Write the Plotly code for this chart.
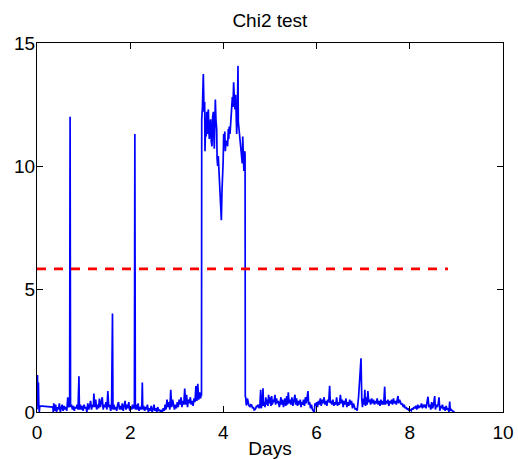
import plotly.graph_objects as go

# Chi2 test statistic over time (days)
DAYS = [
    0.00, 0.01, 0.02, 0.03, 0.04, 0.05, 0.06, 0.34, 0.35,
    0.36, 0.38, 0.40, 0.42, 0.44, 0.46, 0.48, 0.50, 0.52, 0.54, 0.56, 0.58, 0.60, 0.62, 0.64, 0.66, 0.68, 0.70, 0.71, 0.72,
    0.74, 0.76, 0.78, 0.80, 0.82, 0.84, 0.86, 0.88, 0.90, 0.91,
    0.93, 0.95, 0.97, 0.99, 1.01, 1.03, 1.05, 1.07, 1.09, 1.11, 1.13, 1.15, 1.17, 1.19, 1.21, 1.22, 1.24, 1.26, 1.28, 1.30,
    1.32, 1.34, 1.36, 1.38, 1.40, 1.42, 1.44, 1.46, 1.48, 1.50, 1.52, 1.54, 1.56, 1.58, 1.60, 1.62, 1.63,
    1.65, 1.67, 1.69, 1.71, 1.73, 1.75, 1.77, 1.79, 1.81, 1.83, 1.85, 1.87, 1.89, 1.91, 1.93, 1.95, 1.97, 1.99, 2.01, 2.03,
    2.05, 2.07, 2.09, 2.10, 2.11,
    2.13, 2.15, 2.17, 2.19, 2.21, 2.23, 2.25, 2.26, 2.27, 2.29, 2.31, 2.33, 2.35, 2.37, 2.39, 2.41, 2.43, 2.45, 2.47, 2.49,
    2.51, 2.53, 2.55, 2.57, 2.59, 2.61, 2.63, 2.65, 2.67, 2.69, 2.71, 2.73, 2.75, 2.77, 2.79, 2.81, 2.83, 2.85, 2.87, 2.89,
    2.91, 2.93, 2.95, 2.97, 2.99, 3.01, 3.03, 3.05, 3.07, 3.09, 3.11, 3.13, 3.15, 3.17, 3.19, 3.21, 3.23, 3.25, 3.27, 3.29,
    3.31, 3.33, 3.35, 3.37, 3.39, 3.41, 3.43, 3.45, 3.47, 3.49, 3.51, 3.52, 3.53,
    3.535, 3.55, 3.569, 3.585, 3.598, 3.605, 3.62, 3.63, 3.641, 3.655, 3.665, 3.677, 3.69, 3.698, 3.71, 3.727, 3.74,
    3.755, 3.77, 3.784, 3.795, 3.805, 3.815, 3.827, 3.84, 3.856, 3.865, 3.877, 3.89, 3.906, 3.92, 3.934, 3.956, 3.97,
    3.984, 3.995, 4.006, 4.02, 4.03, 4.041, 4.05, 4.06, 4.077, 4.09, 4.106, 4.115, 4.125, 4.142, 4.155, 4.163, 4.18,
    4.192, 4.205, 4.22, 4.235, 4.249, 4.263, 4.285, 4.30, 4.313, 4.32, 4.335, 4.35, 4.37, 4.39, 4.405, 4.415, 4.43,
    4.44, 4.455, 4.465, 4.47,
    4.478, 4.49, 4.50, 4.515, 4.535, 4.55, 4.57, 4.59, 4.607, 4.625, 4.645, 4.66, 4.678, 4.695, 4.71, 4.73, 4.75, 4.77,
    4.785, 4.80, 4.81, 4.83, 4.85, 4.86, 4.88, 4.893, 4.91, 4.925, 4.94, 4.955, 4.97, 4.99, 5.005, 5.02, 5.036, 5.05,
    5.07, 5.085, 5.107, 5.12, 5.14, 5.16, 5.18, 5.20, 5.22, 5.235, 5.25, 5.27, 5.29, 5.305, 5.32, 5.34, 5.36, 5.375,
    5.393, 5.41, 5.43, 5.45, 5.47, 5.49, 5.51, 5.536, 5.55, 5.57, 5.59, 5.61, 5.63, 5.65, 5.665, 5.68, 5.70, 5.72,
    5.74, 5.76, 5.78, 5.80, 5.815, 5.83, 5.85, 5.87, 5.89, 5.91, 5.93, 5.95, 5.965, 5.98, 6.00, 6.02, 6.04, 6.06,
    6.08, 6.10, 6.12, 6.14, 6.16, 6.18, 6.20, 6.22, 6.24, 6.26, 6.28, 6.295, 6.31, 6.33, 6.35, 6.37, 6.39, 6.41,
    6.43, 6.45, 6.47, 6.49, 6.51, 6.53, 6.55, 6.57, 6.59, 6.61, 6.63, 6.65, 6.67, 6.69, 6.71, 6.73, 6.75, 6.77,
    6.79, 6.81, 6.83, 6.85, 6.87, 6.90, 6.953, 6.97, 6.985, 7.00, 7.02, 7.035, 7.05, 7.07, 7.085, 7.10, 7.12, 7.14,
    7.16, 7.18, 7.20, 7.22, 7.24, 7.26, 7.28, 7.30, 7.32, 7.34, 7.36, 7.38, 7.40, 7.42, 7.44, 7.461, 7.475, 7.49,
    7.51, 7.53, 7.55, 7.57, 7.59, 7.61, 7.63, 7.65, 7.67, 7.69, 7.71, 7.73, 7.747, 7.76, 7.78, 7.80, 7.82, 7.84,
    7.86, 7.88, 7.90, 7.92, 7.94, 7.96, 7.98, 8.00, 8.03, 8.05, 8.07, 8.09, 8.11, 8.13, 8.15, 8.17, 8.19, 8.21,
    8.23, 8.25, 8.27, 8.29, 8.31, 8.33, 8.35, 8.37, 8.39, 8.41, 8.43, 8.45, 8.47, 8.49, 8.51, 8.534, 8.55, 8.57,
    8.59, 8.61, 8.627, 8.645, 8.66, 8.68, 8.70, 8.72, 8.74, 8.76, 8.78, 8.80, 8.82, 8.84, 8.856, 8.87, 8.89, 8.91,
    8.93, 8.96,
]
CHI2 = [
    0.10, 1.50, 0.30, 1.20, 0.20, 0.00, 0.25, 0.20, 0.00,
    0.35, 0.05, 0.30, 0.00, 0.20, 0.10, 0.35, 0.00, 0.15, 0.30, 0.05, 0.25, 0.10, 0.20, 0.05, 0.60, 0.20, 0.30, 12.0, 0.20,
    0.30, 0.10, 0.25, 0.05, 0.20, 0.15, 0.30, 0.10, 1.45, 0.10,
    0.30, 0.10, 0.25, 0.05, 0.30, 0.15, 0.20, 0.00, 0.35, 0.10, 0.25, 0.45, 0.10, 0.30, 0.20, 0.75, 0.20, 0.50, 0.10, 0.30,
    0.15, 0.55, 0.20, 0.35, 0.60, 0.10, 0.30, 0.20, 0.40, 0.10, 0.85, 0.20, 0.30, 0.05, 0.20, 4.00, 0.10,
    0.30, 0.10, 0.20, 0.05, 0.30, 0.40, 0.10, 0.25, 0.10, 0.35, 0.05, 0.20, 0.45, 0.10, 0.30, 0.15, 0.40, 0.05, 0.20, 0.10,
    0.30, 0.15, 0.20, 11.3, 0.10,
    0.30, 0.10, 0.35, 0.05, 0.20, 0.10, 0.30, 1.20, 0.10, 0.25, 0.05, 0.20, 0.10, 0.30, 0.00, 0.15, 0.05, 0.25, 0.00, 0.10,
    0.30, 0.05, 0.15, 0.00, 0.20, 0.05, 0.10, 0.00, 0.05, 0.00, 0.15, 0.05, 0.30, 0.10, 0.50, 0.20, 0.40, 0.10, 0.90, 0.20,
    0.50, 0.30, 0.10, 0.30, 0.15, 0.40, 0.20, 0.50, 0.30, 0.60, 0.20, 0.45, 0.30, 0.95, 0.30, 0.70, 0.20, 0.50, 0.35, 0.60,
    0.30, 0.45, 0.25, 0.55, 0.40, 1.05, 0.45, 1.15, 0.50, 0.80, 0.55, 0.70, 0.70,
    11.9, 12.4, 13.74, 12.2, 12.6, 10.6, 11.8, 11.2, 12.2, 11.3, 11.9, 12.3, 11.4, 11.1, 11.7, 11.9, 11.0,
    10.8, 12.0, 12.2, 11.2, 10.7, 11.6, 12.7, 11.9, 11.5, 10.3, 10.0, 10.4, 9.75, 9.3, 8.8, 7.8, 9.0,
    9.5, 10.2, 11.3, 10.9, 11.4, 10.6, 10.9, 11.0, 11.0, 10.8, 11.5, 11.1, 11.6, 11.3, 11.7, 12.2, 12.5,
    12.8, 12.4, 13.4, 12.7, 12.3, 12.9, 11.3, 12.0, 14.07, 11.8, 11.5, 11.0, 10.7, 10.4, 10.1, 11.2, 10.5,
    9.8, 10.6, 10.5, 0.60,
    0.62, 0.30, 0.28, 0.55, 0.35, 0.25, 0.22, 0.30, 0.28, 0.15, 0.20, 0.08, 0.10, 0.15, 0.25, 0.20, 0.30, 0.15,
    0.35, 0.90, 0.15, 0.30, 0.96, 0.25, 0.40, 0.20, 0.60, 0.30, 0.50, 0.25, 0.70, 0.35, 0.60, 0.25, 0.65, 0.30,
    0.50, 0.40, 0.70, 0.30, 0.55, 0.35, 0.45, 0.20, 0.40, 0.60, 0.30, 0.50, 0.20, 0.45, 0.55, 0.25, 0.65, 0.30,
    0.80, 0.35, 0.50, 0.30, 0.60, 0.25, 0.40, 0.70, 0.30, 0.55, 0.25, 0.45, 0.30, 0.50, 0.20, 0.40, 0.30, 0.50,
    0.25, 0.60, 0.35, 0.70, 0.85, 0.30, 0.40, 0.15, 0.30, 0.10, 0.05, 0.00, 0.35, 0.25, 0.40, 0.20, 0.45, 0.30,
    0.55, 0.25, 0.50, 0.35, 0.60, 0.30, 0.45, 0.25, 0.50, 0.40, 1.07, 0.35, 0.45, 0.30, 0.50, 0.25, 0.40, 0.30,
    0.60, 0.25, 0.40, 0.30, 0.70, 0.35, 0.50, 0.20, 0.45, 0.30, 0.55, 0.20, 0.40, 0.25, 0.50, 0.30, 0.45, 0.15,
    0.35, 0.20, 0.10, 0.15, 0.05, 0.60, 2.18, 0.50, 0.20, 0.55, 0.30, 0.90, 0.25, 0.60, 0.30, 0.85, 0.40, 0.50,
    0.30, 0.55, 0.35, 0.50, 0.30, 0.45, 0.35, 0.55, 0.30, 0.45, 0.25, 0.50, 0.30, 0.45, 0.30, 1.03, 0.30, 0.45,
    0.35, 0.50, 0.25, 0.45, 0.35, 0.50, 0.30, 0.55, 0.35, 0.45, 0.30, 0.50, 0.65, 0.35, 0.50, 0.40, 0.30, 0.35,
    0.20, 0.30, 0.15, 0.20, 0.10, 0.15, 0.05, 0.10, 0.05, 0.15, 0.10, 0.20, 0.15, 0.25, 0.10, 0.30, 0.15, 0.25,
    0.20, 0.35, 0.15, 0.30, 0.20, 0.30, 0.15, 0.40, 0.62, 0.20, 0.30, 0.10, 0.40, 0.15, 0.30, 0.65, 0.10, 0.30,
    0.20, 0.35, 0.60, 0.05, 0.25, 0.15, 0.30, 0.10, 0.20, 0.05, 0.25, 0.10, 0.15, 0.00, 0.42, 0.05, 0.10, 0.05,
    0.02, 0.00,
]

THRESHOLD_X = [0.0, 8.82]
THRESHOLD_Y = [5.82, 5.82]

X_TICKS = [0, 2, 4, 6, 8, 10]
Y_TICKS = [0, 5, 10, 15]

FONT = "Liberation Sans, Arial, Helvetica, sans-serif"

fig = go.Figure()
fig.add_trace(go.Scatter(
    x=DAYS, y=CHI2, mode="lines",
    line=dict(color="rgb(0,0,255)", width=1.7),
    showlegend=False, hoverinfo="skip",
))
fig.add_trace(go.Scatter(
    x=THRESHOLD_X, y=THRESHOLD_Y, mode="lines",
    line=dict(color="rgb(255,0,0)", width=2.6, dash="9px,8px"),
    showlegend=False, hoverinfo="skip",
))

axis_common = dict(
    showgrid=False, zeroline=False, showline=True, linecolor="black", linewidth=1,
    mirror="allticks", ticks="inside", ticklen=6, tickwidth=1, tickcolor="black",
    tickfont=dict(family=FONT, size=19, color="black"), automargin=False,
)

fig.update_layout(
    width=518, height=459,
    margin=dict(l=37, r=15, t=43, b=47, autoexpand=False),
    paper_bgcolor="white", plot_bgcolor="white",
    title=dict(text="Chi2 test", x=0.521, xanchor="center", y=0.956, yanchor="middle",
               automargin=False,
               font=dict(family=FONT, size=19, color="black")),
    xaxis=dict(range=[0, 10], tickvals=X_TICKS, ticktext=[str(v) for v in X_TICKS],
               ticklabelstandoff=3,
               title=dict(text="Days", standoff=0, font=dict(family=FONT, size=19, color="black")),
               **axis_common),
    yaxis=dict(range=[0, 15], tickvals=Y_TICKS, ticktext=[str(v) for v in Y_TICKS],
               ticklabelstandoff=-3,
               **axis_common),
)

fig.write_html(
    "out.html",
    config={"displayModeBar": False},
    post_script="document.body.style.margin='0px';document.body.style.padding='0px';",
)
